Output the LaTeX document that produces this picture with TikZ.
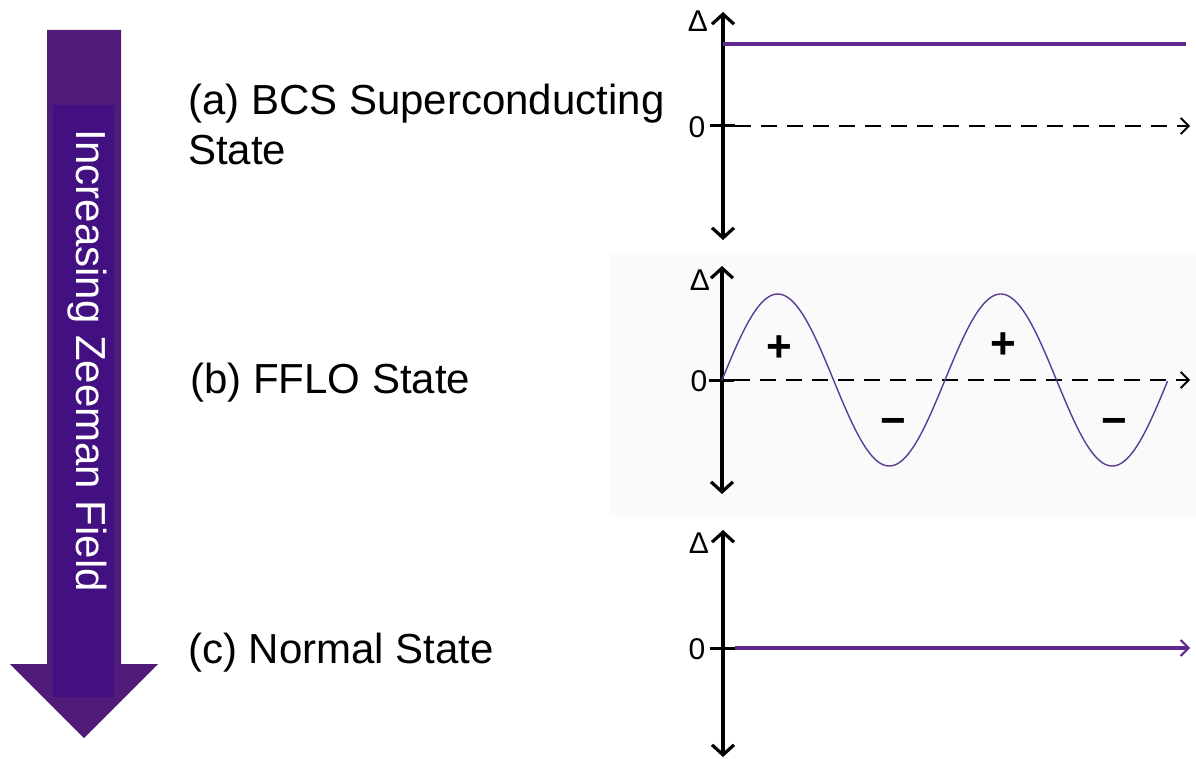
\documentclass[tikz,border=0pt]{standalone}
\usepackage{fontspec}
\setmainfont{Liberation Sans}
\usetikzlibrary{arrows.meta}
\definecolor{arrowout}{RGB}{80,26,120}
\definecolor{arrowin}{RGB}{66,16,128}
\definecolor{curvepurple}{RGB}{96,40,140}
\definecolor{sinepurple}{RGB}{90,60,150}
\definecolor{panelgray}{RGB}{250,250,250}
\tikzset{
  lbl/.style={font=\fontsize{42}{50}\selectfont, anchor=base west, inner sep=0pt, align=left},
  axlbl/.style={font=\fontsize{30}{30}\selectfont, inner sep=0pt},
  sgn/.style={font=\fontsize{44}{44}\selectfont\bfseries, inner sep=0pt},
  yaxis/.style={line width=3.6pt, {Straight Barb[length=10pt,width=22pt,line width=3.2pt]}-{Straight Barb[length=10pt,width=22pt,line width=3.2pt]}},
  zerotick/.style={line width=3pt},
  xdash/.style={line width=2pt, dash pattern=on 16pt off 10pt, -{Straight Barb[length=8pt,width=16pt,line width=1.8pt]}},
  thickpurple/.style={line width=4pt, curvepurple},
}
\begin{document}
\begin{tikzpicture}[x=1pt,y=-1pt]
\useasboundingbox (0,0) rectangle (1196,759);
% big arrow
\fill[arrowout] (47,30) -- (121,30) -- (121,664) -- (158,664) -- (84,738) -- (10,664) -- (47,664) -- cycle;
\fill[arrowin] (53,105) rectangle (114,697);
\node[rotate=-90, text=white, font=\fontsize{42}{42}\selectfont, inner sep=0pt] (field) at (87,361) {Increasing Zeeman Field};
% labels
\node[lbl] (la) at (188,165) {(a) BCS Superconducting\\State};
\node[lbl] (lb) at (190,393) {(b) FFLO State};
\node[lbl] (lc) at (188,663) {(c) Normal State};
% panel (a)
\coordinate (atop) at (723,12);
\coordinate (abot) at (723,240);
\coordinate (azl) at (710,126);
\coordinate (az) at (735,126);
\coordinate (azr) at (1190,126);
\coordinate (abl) at (723,44);
\coordinate (abr) at (1186,44);
\draw[yaxis] (abot) -- (atop);
\draw[thickpurple] (abl) -- (abr);
\draw[zerotick] (azl) -- (az);
\draw[xdash] (az) -- (azr);
\node[axlbl] (ad) at (698,21) {Δ};
\node[axlbl] (a0) at (697,127) {0};
% panel (b)
\fill[panelgray] (609,253) rectangle (1196,516);
\coordinate (btop) at (722,266);
\coordinate (bbot) at (722,494);
\coordinate (bzl) at (709,380);
\coordinate (bz) at (734,380);
\coordinate (bzr) at (1190,380);
\draw[yaxis] (bbot) -- (btop);
\draw[zerotick] (bzl) -- (bz);
\draw[xdash] (bz) -- (bzr);
\draw[sinepurple, line width=1.4pt, domain=0:2, samples=200, smooth] plot ({722+223*\x}, {380-86*sin(\x*360)});
\node[axlbl] (bd) at (700,280) {Δ};
\node[axlbl] (b0) at (699,381) {0};
\node[sgn] (p1) at (779,349) {+};
\node[sgn] (p2) at (1003,346) {+};
\node[sgn] (m1) at (893,427) {−};
\node[sgn] (m2) at (1114,427) {−};
% panel (c)
\coordinate (ctop) at (723,530);
\coordinate (cbot) at (723,757);
\coordinate (czl) at (710,648);
\coordinate (cz) at (735,648);
\coordinate (czr) at (1190,648);
\draw[yaxis] (cbot) -- (ctop);
\draw[zerotick] (czl) -- (cz);
\draw[thickpurple, -{Straight Barb[length=8pt,width=16pt,line width=2pt]}] (cz) -- (czr);
\node[axlbl] (cd) at (699,543) {Δ};
\node[axlbl] (c0) at (697,649) {0};
\end{tikzpicture}
\end{document}
